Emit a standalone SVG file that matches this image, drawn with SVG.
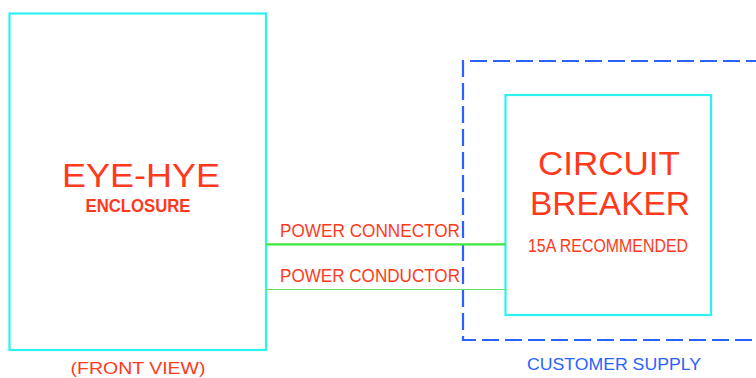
<svg xmlns="http://www.w3.org/2000/svg" width="756" height="378" viewBox="0 0 756 378">
<style>
.box{fill:none;stroke:#2ef2f2;stroke-width:2.2}
.dash{fill:none;stroke:#2a62ff;stroke-width:2.2;stroke-dasharray:17 6}
.t{font-family:"Liberation Sans","DejaVu Sans",sans-serif;fill:#ff3a1c}
.b{font-family:"Liberation Sans","DejaVu Sans",sans-serif;fill:#2a62ff}
.wire1{stroke:#3ee63e;stroke-width:2.2}
.wire2{stroke:#5fe05f;stroke-width:1.2}
</style>
<rect width="756" height="378" fill="#ffffff"/>
<g id="supply">
<path class="dash" d="M763 61 H463 V340 H763"/>
<text class="b" x="614" y="370" font-size="17" text-anchor="middle" textLength="174" lengthAdjust="spacingAndGlyphs">CUSTOMER SUPPLY</text>
</g>
<g id="enclosure">
<rect class="box" x="9.5" y="13.5" width="256.5" height="336.5"/>
<text class="t" x="141" y="187" font-size="33" text-anchor="middle" textLength="158" lengthAdjust="spacingAndGlyphs">EYE-HYE</text>
<text class="t" x="138" y="212" font-size="17.5" font-weight="bold" text-anchor="middle" textLength="105" lengthAdjust="spacingAndGlyphs">ENCLOSURE</text>
<text class="t" x="138" y="374" font-size="17" text-anchor="middle" textLength="135" lengthAdjust="spacingAndGlyphs">(FRONT VIEW)</text>
</g>
<g id="breaker">
<rect class="box" x="505.5" y="95" width="205.5" height="220"/>
<text class="t" x="609" y="175" font-size="34" text-anchor="middle" textLength="142" lengthAdjust="spacingAndGlyphs">CIRCUIT</text>
<text class="t" x="610" y="215" font-size="34" text-anchor="middle" textLength="160" lengthAdjust="spacingAndGlyphs">BREAKER</text>
<text class="t" x="608" y="252" font-size="19" text-anchor="middle" textLength="160" lengthAdjust="spacingAndGlyphs">15A RECOMMENDED</text>
</g>
<g id="connectors">
<line class="wire1" x1="266" y1="244.3" x2="505.5" y2="244.3"/>
<line class="wire2" x1="266" y1="289.5" x2="505.5" y2="289.5"/>
<text class="t" x="280" y="237" font-size="19" textLength="180" lengthAdjust="spacingAndGlyphs">POWER CONNECTOR</text>
<text class="t" x="280" y="282" font-size="19" textLength="180" lengthAdjust="spacingAndGlyphs">POWER CONDUCTOR</text>
</g>
</svg>
